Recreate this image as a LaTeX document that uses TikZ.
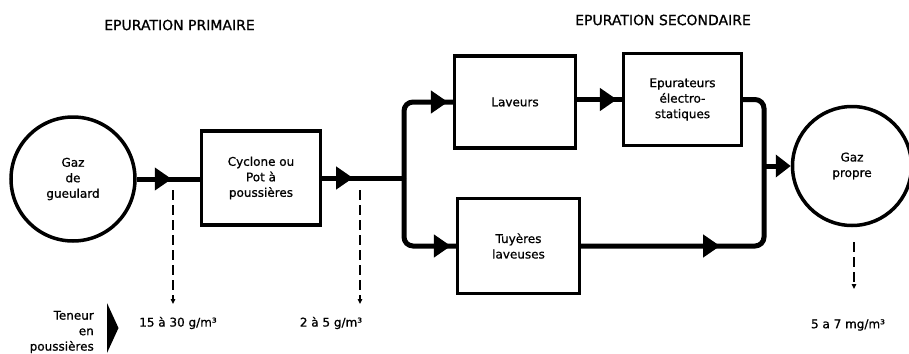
\documentclass[tikz,border=0pt]{standalone}
\usepackage{fontspec}
\setmainfont{DejaVu Sans}[FakeBold=0.9]
\usetikzlibrary{arrows.meta,decorations.markings}
\begin{document}
\begin{tikzpicture}[x=1pt,y=-1pt,
  body/.style={font=\fontsize{12}{15.5}\selectfont, align=center, inner sep=0pt},
  boxnode/.style={draw, line width=3.2pt, body},
  disc/.style={draw, circle, line width=3.5pt, body},
  flow/.style={line width=5pt},
  midarrow/.style={postaction={decorate}, decoration={markings, mark=at position #1 with {\arrow{Triangle[length=17pt,width=22pt]}}}},
  dashlink/.style={line width=1.7pt, dash pattern=on 10pt off 5pt, -{Triangle[length=5pt,width=4.5pt]}},
  title/.style={font=\fontsize{14}{16}\selectfont, inner sep=0pt},
  label/.style={font=\fontsize{12}{15}\selectfont, inner sep=0pt}
]
\useasboundingbox (0,0) rectangle (909,353);

% titles
\node[title] (t1) at (179.5,25) {EPURATION PRIMAIRE};
\node[title] (t2) at (663,20) {EPURATION SECONDAIRE};

% main nodes
\node[disc, minimum size=124pt] (gg) at (73,179) {Gaz\\de\\gueulard};
\node[boxnode, minimum width=119pt, minimum height=94pt] (cy) at (261,178) {Cyclone ou\\Pot à\\poussières};
\node[boxnode, minimum width=121pt, minimum height=92pt] (lav) at (515,102) {Laveurs};
\node[boxnode, minimum width=122pt, minimum height=95pt] (tuy) at (518.5,246) {Tuyères\\laveuses};
\node[boxnode, minimum width=118pt, minimum height=92pt] (epu) at (682.5,99.5) {Epurateurs\\électro-\\statiques};
\node[disc, minimum size=119pt] (gp) at (852,166) {Gaz\\propre};

% junctions
\coordinate (j) at (404,178);
\coordinate (rb) at (764,0);

% flows
\draw[flow, midarrow=35pt] (gg.east) -- (gg.east -| cy.west);
\draw[flow, midarrow=31pt] (cy.east) -- (j);
\draw[flow, rounded corners=9pt, midarrow=-5pt] (j) |- (lav.west);
\draw[flow, rounded corners=9pt, midarrow=-5pt] (j) |- (tuy.west);
\draw[flow, midarrow=-5pt] (epu.west -| lav.east) -- (epu.west);
\draw[flow, rounded corners=9pt, midarrow=139pt] (tuy.east) -- (tuy.east -| rb) -- (epu.east -| rb) -- (epu.east);
\draw[flow, -{Triangle[length=15pt,width=22pt]}] (gp.west -| rb) -- (gp.west);

% dust content
\node[label] (l1) at (178,323) {15 à 30 g/m³};
\node[label] (l2) at (331,323) {2 à 5 g/m³};
\node[label] (l3) at (848,325) {5 a 7 mg/m³};
\node[body, align=right, anchor=east] (ten) at (94,332) {Teneur\\en\\poussières};
\fill (107,303) -- (118.5,328) -- (107,353) -- cycle;

\coordinate (d1a) at (173,190);
\coordinate (d1b) at (173,304);
\coordinate (d2a) at (360,190);
\coordinate (d2b) at (360,304);
\coordinate (d3a) at (854,242);
\coordinate (d3b) at (854,289);
\draw[dashlink] (d1a) -- (d1b);
\draw[dashlink] (d2a) -- (d2b);
\draw[dashlink] (d3a) -- (d3b);
\end{tikzpicture}
\end{document}
